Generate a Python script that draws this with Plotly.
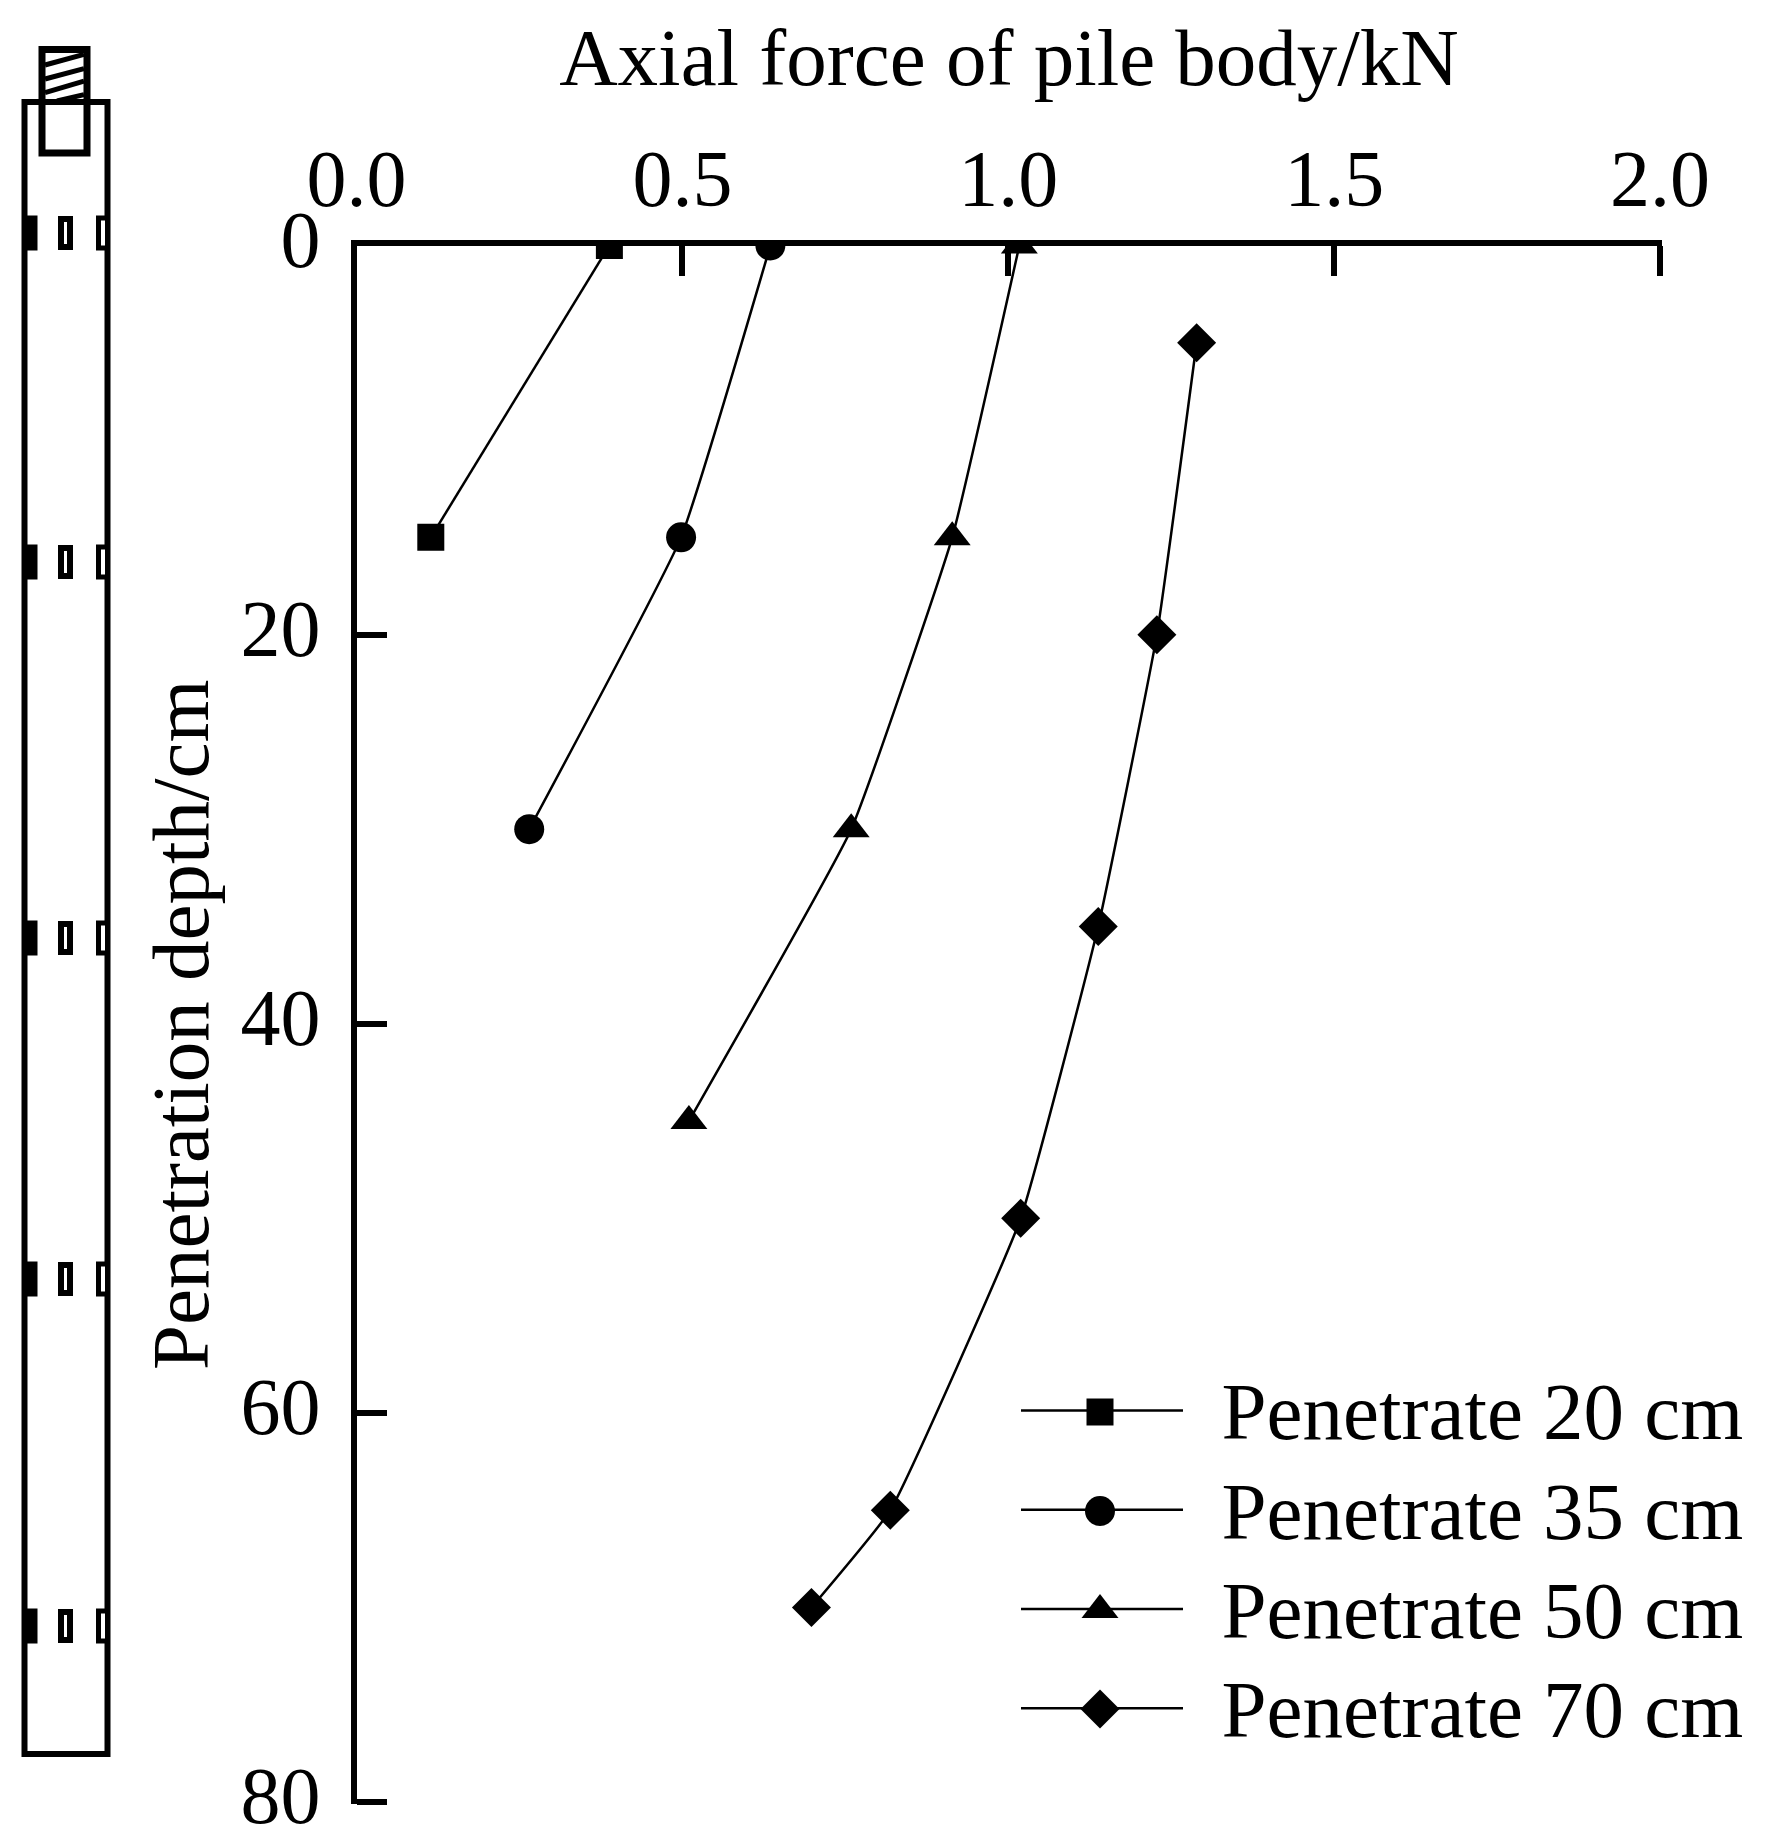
import plotly.graph_objects as go

FIG_W = 1765
FIG_H = 1844
FONT = "Liberation Serif"

# axial force (kN) against penetration depth (cm)
depth_20 = [0, 15]
force_20 = [0.388, 0.114]
depth_35 = [0, 15, 30]
force_35 = [0.635, 0.498, 0.265]
depth_50 = [0, 15, 30, 45]
force_50 = [1.017, 0.914, 0.759, 0.51]
depth_70 = [5, 20, 35, 50, 65, 70]
force_70 = [1.289, 1.228, 1.138, 1.019, 0.819, 0.698]

series_names = ["Penetrate 20 cm", "Penetrate 35 cm", "Penetrate 50 cm", "Penetrate 70 cm"]
x_ticks = [0.0, 0.5, 1.0, 1.5, 2.0]
y_ticks = [0, 20, 40, 60, 80]

# pile sketch rows, in page pixels
sensor_rows = [233, 562, 938, 1279, 1626]
# legend key centres, in page pixels (plotly caps legend markers at 16px)
key_rows = [1412, 1511, 1610, 1709]


def px(x):
    return x / FIG_W


def py(y):
    return 1 - y / FIG_H


def rect(x0, y0, x1, y1, width=5, fill="white"):
    return dict(type="rect", xref="paper", yref="paper", x0=px(x0), y0=py(y0), x1=px(x1), y1=py(y1),
                line=dict(color="black", width=width), fillcolor=fill)


def seg(x0, y0, x1, y1, width=5):
    return dict(type="line", xref="paper", yref="paper", x0=px(x0), y0=py(y0), x1=px(x1), y1=py(y1),
                line=dict(color="black", width=width))


fig = go.Figure()
traces = [
    (force_20, depth_20, "square", 27),
    (force_35, depth_35, "circle", 30),
    (force_50, depth_50, "triangle-up", 32),
    (force_70, depth_70, "diamond", 30),
]
for name, (xs, ys, symbol, size) in zip(series_names, traces):
    label = f'<span style="font-size:67px">\u2002</span><span style="font-size:81px">{name}</span>'
    fig.add_trace(go.Scatter(x=xs, y=ys, name=label, mode="lines+markers",
                             line=dict(color="black", width=2.5, shape="spline", smoothing=0.35),
                             marker=dict(symbol=symbol, size=size, color="black")))

for row, (xs, ys, symbol, size) in zip(key_rows, traces):
    fig.add_trace(go.Scatter(x=[1100], y=[row], xaxis="x2", yaxis="y2", mode="markers", showlegend=False,
                             marker=dict(symbol=symbol, size=size, color="black")))

shapes = [rect(24.5, 102, 107.5, 1754, width=6), rect(42, 49.5, 87, 153, width=7, fill="rgba(0,0,0,0)")]
shapes += [seg(45, 65, 84, 54.4), seg(45, 79, 84, 68.6), seg(45, 92.7, 84, 81.2), seg(57, 101, 84, 94.6)]
for row in sensor_rows:
    shapes.append(rect(24.5, row - 16, 36, row + 16, width=3, fill="black"))
    shapes.append(rect(61, row - 14, 70, row + 14, width=6))
    shapes.append(rect(98.5, row - 15, 107.5, row + 15, width=5))

fig.update_layout(
    width=FIG_W, height=FIG_H,
    margin=dict(l=0, r=0, t=0, b=0),
    paper_bgcolor="white", plot_bgcolor="rgba(0,0,0,0)",
    font=dict(family=FONT, size=80, color="black"),
    shapes=shapes,
    title=dict(text="Axial force of pile body/kN", x=px(1009), xanchor="center", y=py(57), yanchor="middle",
               font=dict(size=81)),
    legend=dict(x=px(1016), y=py(1356), xanchor="left", yanchor="top",
                bgcolor="rgba(0,0,0,0)", itemwidth=162, font=dict(family=FONT, size=74)),
    xaxis=dict(domain=[px(356.5), px(1662)], range=[0, 2.003], side="top", tickvals=x_ticks, tickformat=".1f",
               ticks="inside", ticklen=30, tickwidth=6, tickcolor="black",
               showline=True, linewidth=6, linecolor="black", showgrid=False, zeroline=False,
               ticklabelstandoff=2, automargin=False),
    yaxis=dict(domain=[py(1804), py(245.5)], range=[80.1, 0], tickvals=y_ticks,
               ticks="inside", ticklen=30, tickwidth=6, tickcolor="black",
               showline=True, linewidth=6, linecolor="black", showgrid=False, zeroline=False,
               ticklabelstandoff=14, ticklabelshift=7, automargin=False, ticklabeloverflow="allow",
               title=dict(text="Penetration depth/cm", standoff=7, font=dict(size=81))),
    xaxis2=dict(domain=[0, 1], range=[0, FIG_W], anchor="y2", visible=False),
    yaxis2=dict(domain=[0, 1], range=[FIG_H, 0], anchor="x2", visible=False),
)

fig.write_html("out.html", config={"displayModeBar": False}, post_script="document.body.style.margin='0';")
